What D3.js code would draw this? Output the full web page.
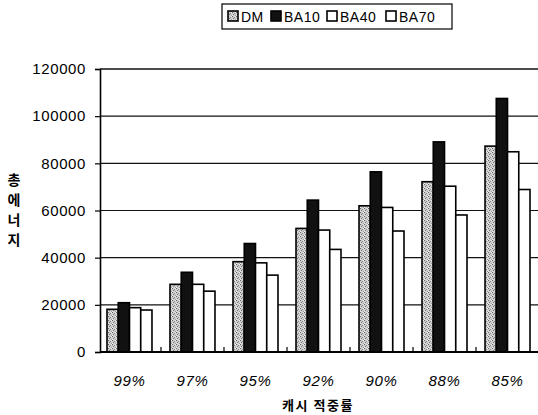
<!DOCTYPE html>
<html><head><meta charset="utf-8">
<script src="https://cdn.jsdelivr.net/npm/d3@7"></script>
<style>body{margin:0;background:#fff}svg{display:block}</style>
</head><body><svg id="c" width="538" height="415"></svg>
<script>
const categories = ["99%","97%","95%","92%","90%","88%","85%"];
const seriesNames = ["DM","BA10","BA40","BA70"];
const dm   = [18100, 28700, 38300, 52400, 62000, 72200, 87300];
const ba10 = [20900, 33800, 46000, 64400, 76400, 89100, 107500];
const ba40 = [18800, 28700, 37800, 51700, 61300, 70300, 84900];
const ba70 = [17800, 25800, 32600, 43500, 51300, 58100, 68900];
const yTicks = [0, 20000, 40000, 60000, 80000, 100000, 120000];
const xTitle = "캐시 적중률";
const yTitle = ["총","에","너","지"];

const series = [dm, ba10, ba40, ba70];
const svg = d3.select("#c");
const defs = svg.append("defs");
const pat = defs.append("pattern").attr("id","dots").attr("patternUnits","userSpaceOnUse")
  .attr("width",4).attr("height",4);
pat.append("rect").attr("width",4).attr("height",4).attr("fill","#cfcfcf");
[[0,0,"#666"],[2,1,"#888"],[1,2,"#777"],[3,3,"#999"],[3,0,"#eee"],[0,3,"#eee"]].forEach(p=>{
  pat.append("rect").attr("x",p[0]).attr("y",p[1]).attr("width",1).attr("height",1).attr("fill",p[2]);
});

const fills = ["url(#dots)", "#111", "#fff", "#fff"];
const pLeft = 100, pTop = 69, pBottom = 352, pRight = 540;

const y = d3.scaleLinear().domain([0,120000]).range([pBottom, pTop]);
const x0 = d3.scaleBand().domain(categories).range([pLeft, 537]).paddingInner(0.286).paddingOuter(0.111);
const x1 = d3.scaleBand().domain(seriesNames).range([0, x0.bandwidth()]).padding(0);

// gridlines
svg.append("g").selectAll("line").data(yTicks.filter(d=>d>0)).join("line")
  .attr("x1", pLeft).attr("x2", pRight)
  .attr("y1", d=>y(d)).attr("y2", d=>y(d))
  .attr("stroke","#111").attr("stroke-width", d=> d===120000 ? 1.6 : 1.1);

// bars
const g = svg.append("g");
categories.forEach((c,i)=>{
  seriesNames.forEach((s,j)=>{
    g.append("rect")
      .attr("x", x0(c) + x1(s))
      .attr("y", y(series[j][i]))
      .attr("width", x1.bandwidth())
      .attr("height", pBottom - y(series[j][i]))
      .attr("fill", fills[j])
      .attr("stroke", "#000").attr("stroke-width", 1.6);
  });
});

// y axis
const yAxis = d3.axisLeft(y).tickValues(yTicks).tickSize(5).tickPadding(9).tickFormat(d3.format("d"));
const ya = svg.append("g").attr("transform",`translate(${pLeft},0)`).call(yAxis);
ya.select(".domain").attr("stroke","#000").attr("stroke-width",1.6);
ya.selectAll(".tick line").attr("stroke","#000").attr("stroke-width",1.2);
ya.selectAll(".tick text").attr("font-family","Liberation Sans, Arial, sans-serif")
  .attr("font-size",15).attr("letter-spacing","0.6px").attr("fill","#000");

// x axis
svg.append("line").attr("x1",pLeft).attr("x2",pRight).attr("y1",pBottom).attr("y2",pBottom)
  .attr("stroke","#000").attr("stroke-width",2.2);
const gap = x0.step() - x0.bandwidth();
svg.append("g").selectAll("line").data(categories).join("line")
  .attr("x1", d=>x0(d)+x0.bandwidth()+gap/2).attr("x2", d=>x0(d)+x0.bandwidth()+gap/2)
  .attr("y1", pBottom).attr("y2", pBottom-5).attr("stroke","#000").attr("stroke-width",1.2);
svg.append("g").selectAll("text").data(categories).join("text")
  .attr("x", d=>x0(d)+x0.bandwidth()/2).attr("y", 386)
  .attr("text-anchor","middle").attr("font-family","Liberation Sans, Arial, sans-serif")
  .attr("font-size",15).attr("font-style","italic").attr("letter-spacing","0.6px").text(d=>d);

// axis titles
svg.append("text").attr("x",318).attr("y",410).attr("text-anchor","middle")
  .attr("font-family","Noto Sans CJK KR, sans-serif").attr("font-weight","bold")
  .attr("font-size",13).attr("letter-spacing","1.5px").text(xTitle);
svg.append("g").selectAll("text").data(yTitle).join("text")
  .attr("x",14).attr("y",(d,i)=>185 + i*20).attr("text-anchor","middle")
  .attr("font-family","Noto Sans CJK KR, sans-serif").attr("font-weight","bold")
  .attr("font-size",14).text(d=>d);

// legend
const lg = svg.append("g");
lg.append("rect").attr("x",222).attr("y",4).attr("width",230).attr("height",25)
  .attr("fill","#fff").attr("stroke","#000").attr("stroke-width",1.2);
const lx = [228, 271, 327, 386];
seriesNames.forEach((s,j)=>{
  lg.append("rect").attr("x",lx[j]).attr("y",11).attr("width",10).attr("height",10)
    .attr("fill",fills[j]).attr("stroke","#000").attr("stroke-width",1.6);
  lg.append("text").attr("x",lx[j]+13).attr("y",21.5)
    .attr("font-family","Liberation Sans, Arial, sans-serif").attr("font-size",14)
    .attr("letter-spacing","0.5px").text(s);
});
</script></body></html>
